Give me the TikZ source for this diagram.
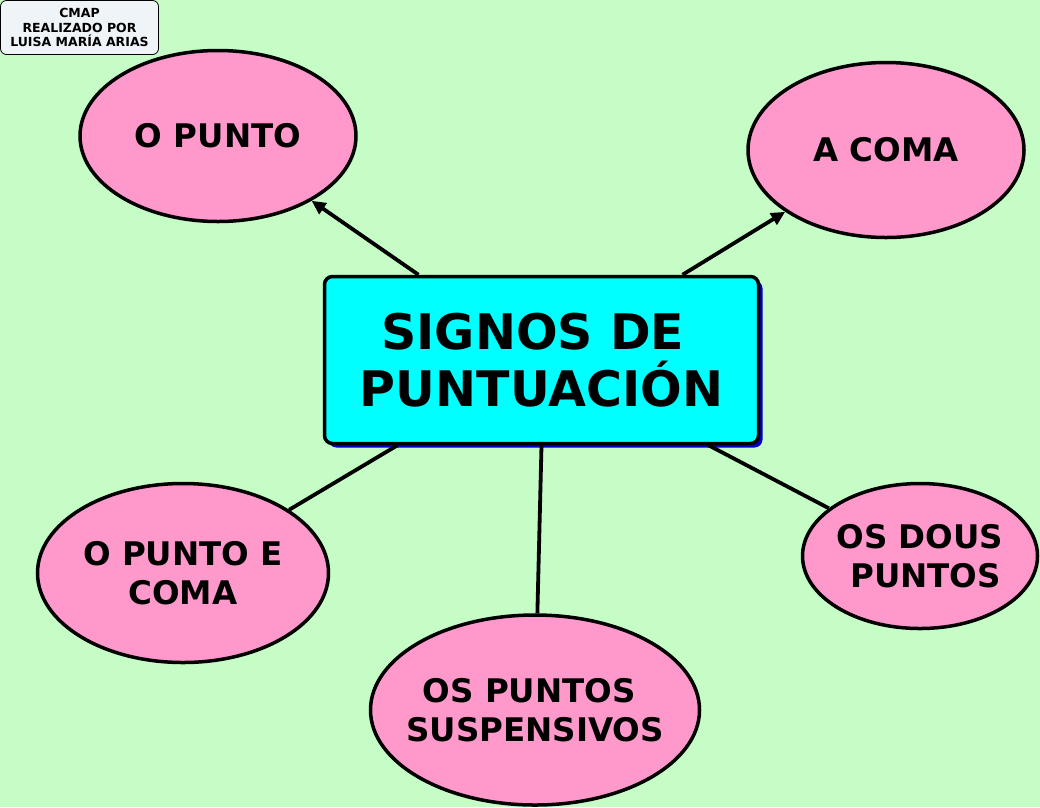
\documentclass[tikz,border=0pt]{standalone}
\usepackage{fontspec}
\setmainfont{DejaVu Sans}
\usetikzlibrary{shapes.geometric,arrows.meta,shadows}
\definecolor{fondo}{RGB}{198,253,198}
\definecolor{rosa}{RGB}{255,153,204}
\definecolor{ciano}{RGB}{0,255,255}
\definecolor{sombra}{RGB}{0,0,204}
\definecolor{caixa}{RGB}{238,244,248}
\begin{document}
\begin{tikzpicture}[x=1pt,y=-1pt,
    elipse/.style={ellipse,draw,line width=3.5pt,fill=rosa,inner sep=-25pt,align=center,
      font=\fontsize{32.5}{39}\selectfont\bfseries},
    ligazon/.style={line width=3.8pt},
    frecha/.style={ligazon,-{Triangle[length=14pt,width=13pt]}}]
    % Fondo
    \fill[fondo] (0,0) rectangle (1040,807);
    \useasboundingbox (0,0) rectangle (1040,807);

    % Autora
    \node[draw,fill=caixa,rounded corners=6pt,line width=0.8pt,minimum width=158pt,
      minimum height=54pt,inner sep=0pt,align=center,
      font=\fontsize{12.5}{14.5}\selectfont\bfseries] (autora) at (79.5,27.5)
      {CMAP\\REALIZADO POR\\LUISA MARÍA ARIAS};

    % Concepto central
    \node[draw,line width=3.5pt,fill=ciano,rounded corners=8pt,minimum width=434pt,
      minimum height=167pt,inner sep=0pt,align=center,
      drop shadow={shadow xshift=4pt,shadow yshift=-4pt,fill=sombra,opacity=1},
      font=\fontsize{49}{57}\selectfont\bfseries] (signos) at (541.5,360)
      {SIGNOS DE\hspace*{0.35em}\\PUNTUACIÓN};

    % Elipses
    \node[elipse,minimum width=276pt,minimum height=171pt] (punto) at (218,136) {O PUNTO};
    \node[elipse,minimum width=276pt,minimum height=175pt] (coma) at (886,150) {A COMA};
    \node[elipse,minimum width=291pt,minimum height=179pt] (puntocoma) at (183,573) {O PUNTO E\\COMA};
    \node[elipse,minimum width=329pt,minimum height=190pt] (suspensivos) at (535,710) {OS PUNTOS\hspace*{0.35em}\\SUSPENSIVOS};
    \node[elipse,minimum width=235pt,minimum height=145pt] (dous) at (920,556) {OS DOUS\\\hspace*{0.35em}PUNTOS};

    % Ligazons
    \draw[frecha] ([xshift=-123pt]signos.north) -- (punto);
    \draw[frecha] ([xshift=141pt]signos.north) -- (coma);
    \draw[ligazon] ([xshift=-144pt]signos.south) -- (puntocoma);
    \draw[ligazon] (signos.south) -- (suspensivos);
    \draw[ligazon] ([xshift=167pt]signos.south) -- (dous);
\end{tikzpicture}
\end{document}
